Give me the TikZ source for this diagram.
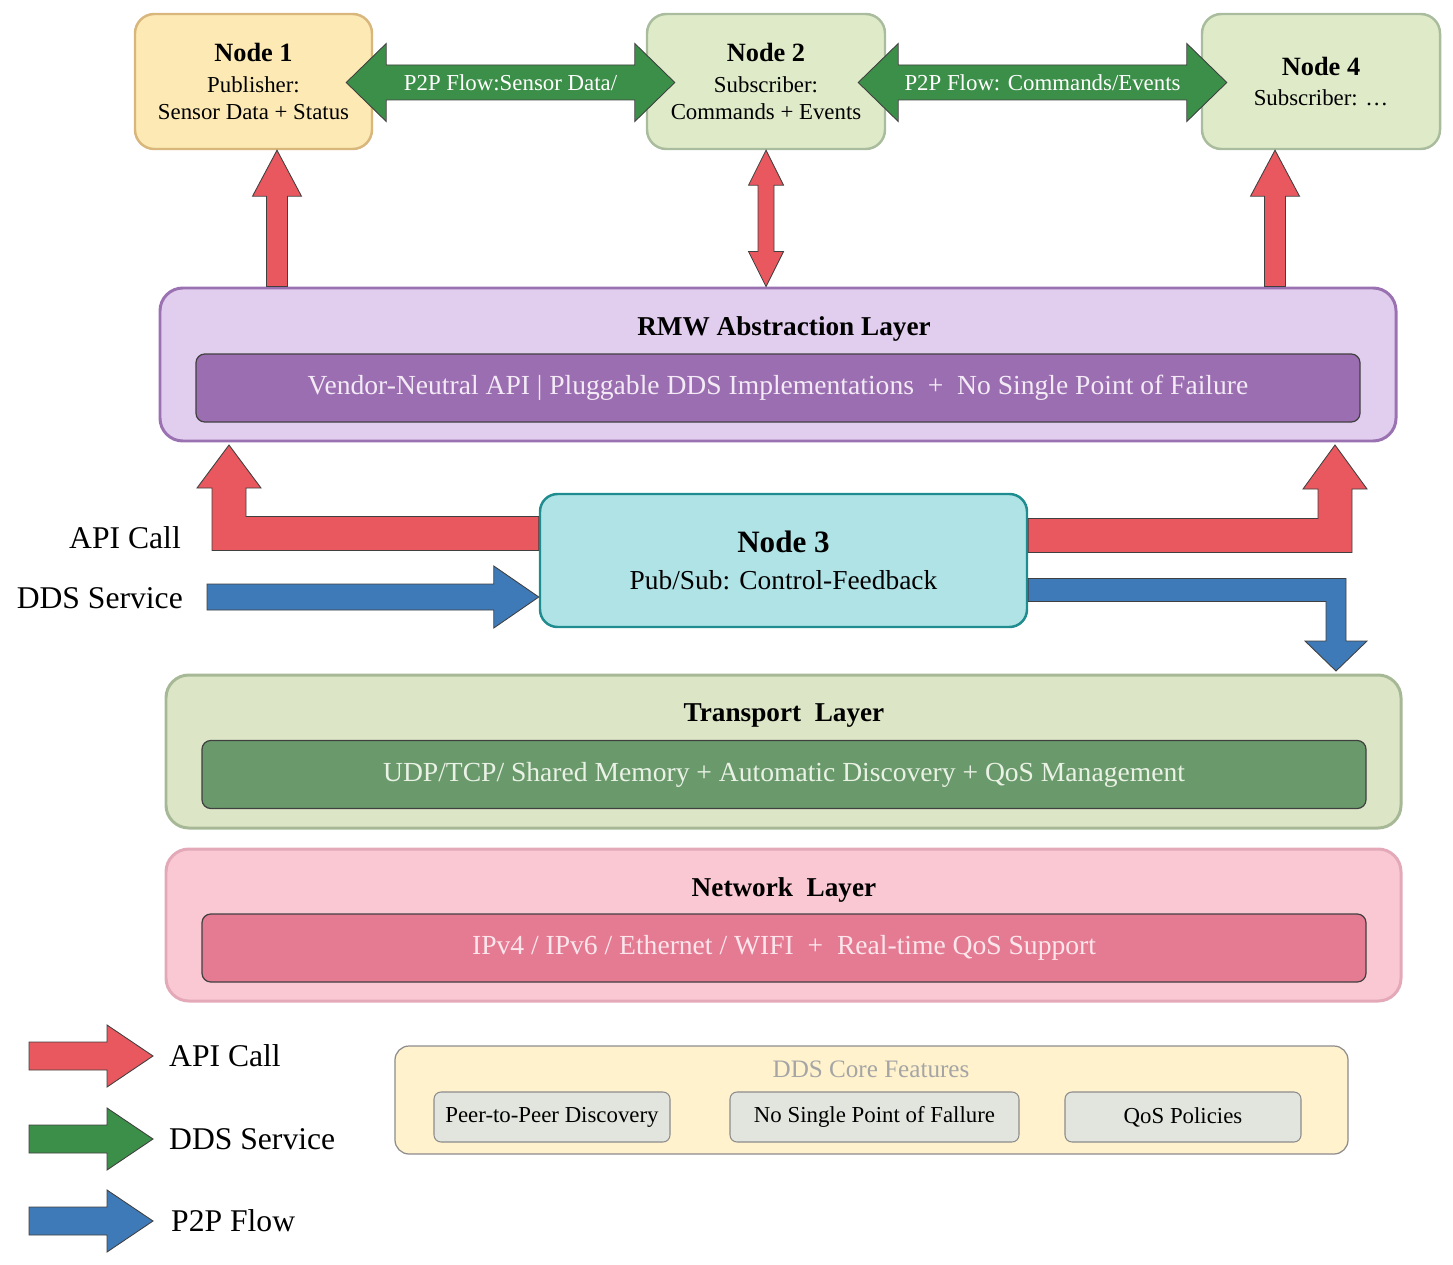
\documentclass[tikz,border=0pt]{standalone}
\usepackage{fontspec}
\setmainfont{Liberation Serif}
\usetikzlibrary{calc,positioning}

\definecolor{apired}{HTML}{E8585E}
\definecolor{ddsgreen}{HTML}{3C8F48}
\definecolor{p2pblue}{HTML}{3F7AB8}
\definecolor{pubfill}{HTML}{FDE9B4}
\definecolor{pubedge}{HTML}{D8B67C}
\definecolor{subfill}{HTML}{DFEAC9}
\definecolor{subedge}{HTML}{A9BC9D}
\definecolor{pubsubfill}{HTML}{B0E3E6}
\definecolor{pubsubedge}{HTML}{1F8C8F}
\definecolor{rmwfill}{HTML}{E1CDEE}
\definecolor{rmwedge}{HTML}{9A72B2}
\definecolor{rmwbar}{HTML}{9A6EB0}
\definecolor{rmwtext}{HTML}{F3EAF6}
\definecolor{trfill}{HTML}{DCE6C6}
\definecolor{tredge}{HTML}{A7B896}
\definecolor{trbar}{HTML}{6A9A6B}
\definecolor{trtext}{HTML}{EAF2E6}
\definecolor{netfill}{HTML}{F9C8D3}
\definecolor{netedge}{HTML}{E3A9B9}
\definecolor{netbar}{HTML}{E57B93}
\definecolor{nettext}{HTML}{FCE6EC}
\definecolor{corefill}{HTML}{FFF2CD}
\definecolor{coretitle}{HTML}{A5A5A5}
\definecolor{featfill}{HTML}{E2E5DE}

\newcommand{\unitpx}{0.02cm}
\newcommand{\nodetitle}{\fontsize{15}{18}\selectfont\bfseries}
\newcommand{\layertitle}{\fontsize{15.5}{18}\selectfont\bfseries}
\newcommand{\sidefont}{\fontsize{18}{21}\selectfont}

% block arrows: base #1, tip #2, shaft half, head half, head length (px), style
\newcommand{\fatv}[6]{%
  \draw[#6] let \p1=(#1), \p2=(#2), \n1={sign(\y2-\y1)} in
    (\x2,\y2) -- ({\x2+#4*\unitpx},{\y2-(\n1)*#5*\unitpx}) -- ({\x2+#3*\unitpx},{\y2-(\n1)*#5*\unitpx})
    -- ({\x2+#3*\unitpx},\y1) -- ({\x2-#3*\unitpx},\y1) -- ({\x2-#3*\unitpx},{\y2-(\n1)*#5*\unitpx})
    -- ({\x2-#4*\unitpx},{\y2-(\n1)*#5*\unitpx}) -- cycle;}
\newcommand{\fatdv}[6]{%
  \draw[#6] let \p1=(#1), \p2=(#2), \n1={sign(\y2-\y1)} in
    (\x2,\y2) -- ({\x2+#4*\unitpx},{\y2-(\n1)*#5*\unitpx}) -- ({\x2+#3*\unitpx},{\y2-(\n1)*#5*\unitpx})
    -- ({\x2+#3*\unitpx},{\y1+(\n1)*#5*\unitpx}) -- ({\x2+#4*\unitpx},{\y1+(\n1)*#5*\unitpx}) -- (\x2,\y1)
    -- ({\x2-#4*\unitpx},{\y1+(\n1)*#5*\unitpx}) -- ({\x2-#3*\unitpx},{\y1+(\n1)*#5*\unitpx})
    -- ({\x2-#3*\unitpx},{\y2-(\n1)*#5*\unitpx}) -- ({\x2-#4*\unitpx},{\y2-(\n1)*#5*\unitpx}) -- cycle;}
\newcommand{\fath}[6]{%
  \draw[#6] let \p1=(#1), \p2=(#2), \n1={sign(\x2-\x1)} in
    (\x2,\y2) -- ({\x2-(\n1)*#5*\unitpx},{\y2+#4*\unitpx}) -- ({\x2-(\n1)*#5*\unitpx},{\y2+#3*\unitpx})
    -- (\x1,{\y2+#3*\unitpx}) -- (\x1,{\y2-#3*\unitpx}) -- ({\x2-(\n1)*#5*\unitpx},{\y2-#3*\unitpx})
    -- ({\x2-(\n1)*#5*\unitpx},{\y2-#4*\unitpx}) -- cycle;}
\newcommand{\fatdh}[6]{%
  \draw[#6] let \p1=(#1), \p2=(#2), \n1={sign(\x2-\x1)} in
    (\x2,\y2) -- ({\x2-(\n1)*#5*\unitpx},{\y2+#4*\unitpx}) -- ({\x2-(\n1)*#5*\unitpx},{\y2+#3*\unitpx})
    -- ({\x1+(\n1)*#5*\unitpx},{\y2+#3*\unitpx}) -- ({\x1+(\n1)*#5*\unitpx},{\y2+#4*\unitpx}) -- (\x1,\y2)
    -- ({\x1+(\n1)*#5*\unitpx},{\y2-#4*\unitpx}) -- ({\x1+(\n1)*#5*\unitpx},{\y2-#3*\unitpx})
    -- ({\x2-(\n1)*#5*\unitpx},{\y2-#3*\unitpx}) -- ({\x2-(\n1)*#5*\unitpx},{\y2-#4*\unitpx}) -- cycle;}

\tikzset{
  peer/.style={draw, rounded corners=11pt, line width=1.4pt, align=center,
    font=\fontsize{13}{15.4}\selectfont},
  layer/.style={draw, rounded corners=13pt, line width=1.7pt,
    minimum width=1235*\unitpx, minimum height=153*\unitpx},
  bar/.style={draw=black!75, rounded corners=5pt, line width=0.7pt,
    minimum width=1164*\unitpx, minimum height=68*\unitpx, font=\fontsize{15.7}{18}\selectfont},
  feat/.style={draw=black!45, fill=featfill, rounded corners=4pt, line width=0.6pt,
    minimum height=50*\unitpx, font=\fontsize{13}{15}\selectfont},
  fat/.style={draw=black!75, line width=0.5pt},
}

\begin{document}
\begin{tikzpicture}[x=0.02cm, y=-0.02cm]
  \useasboundingbox (0,0) rectangle (1453,1264);

  % Peer nodes
  \node[peer, fill=pubfill, draw=pubedge, minimum width=237*\unitpx, minimum height=135*\unitpx]
    (n1) at (253.5,81.5) {{\nodetitle Node 1}\\[2pt]Publisher:\\Sensor Data + Status};
  \node[peer, fill=subfill, draw=subedge, minimum width=238*\unitpx, minimum height=135*\unitpx]
    (n2) at (766,81.5) {{\nodetitle Node 2}\\[2pt]Subscriber:\\Commands + Events};
  \node[peer, fill=subfill, draw=subedge, minimum width=238*\unitpx, minimum height=135*\unitpx]
    (n4) at (1321,81.5) {{\nodetitle Node 4}\\[2pt]Subscriber: \dots};

  % RMW layer
  \node[layer, fill=rmwfill, draw=rmwedge, minimum width=1236*\unitpx] (rmw) at (778,364.5) {};
  \node[font=\layertitle] (rmwt) at (784,329) {RMW Abstraction Layer};
  \node[bar, fill=rmwbar, text=rmwtext] (rmwb) at (778,388)
    {Vendor-Neutral API | Pluggable DDS Implementations \ + \ No Single Point of Failure};

  % Node 3
  \node[draw=pubsubedge, fill=pubsubfill, rounded corners=10pt, line width=1.4pt, align=center,
    minimum width=487*\unitpx, minimum height=133*\unitpx, font=\fontsize{15.6}{20}\selectfont]
    (n3) at (783.5,560.5) {{\fontsize{17.7}{20}\selectfont\bfseries Node 3}\\[1pt]Pub/Sub: Control-Feedback};

  % Transport and network layers
  \node[layer, fill=trfill, draw=tredge] (tr) at (783.5,751.5) {};
  \node[font=\layertitle] (trt) at (784,716) {Transport\ \ Layer};
  \node[bar, fill=trbar, text=trtext] (trb) at (784,774.5)
    {UDP/TCP/ Shared Memory + Automatic Discovery + QoS Management};
  \node[layer, fill=netfill, draw=netedge, minimum height=152*\unitpx] (net) at (783.5,925) {};
  \node[font=\layertitle] (nett) at (784,890) {Network\ \ Layer};
  \node[bar, fill=netbar, text=nettext] (netb) at (784,948)
    {IPv4 / IPv6 / Ethernet / WIFI \ + \ Real-time QoS Support};

  % P2P flows between peers
  \coordinate (g1a) at ($(n1.east)+(-27,1)$);
  \coordinate (g1b) at ($(n2.west)+(29,1)$);
  \coordinate (g2a) at ($(n2.east)+(-28,1)$);
  \coordinate (g2b) at ($(n4.west)+(26,1)$);
  \fatdh{g1a}{g1b}{17.5}{39}{40}{fat, fill=ddsgreen}
  \fatdh{g2a}{g2b}{17.5}{39}{40}{fat, fill=ddsgreen}
  \node[text=white, font=\fontsize{13}{15}\selectfont] (g1l) at ($(g1a)!0.5!(g1b)$) {P2P Flow:Sensor Data/};
  \node[text=white, font=\fontsize{13}{15}\selectfont] (g2l) at ($(g2a)!0.5!(g2b)$) {P2P Flow: Commands/Events};

  % API calls to the peers
  \coordinate (x1) at (277,0);
  \coordinate (x4) at (1275,0);
  \fatv{rmw.north -| x1}{n1.south -| x1}{10.5}{24.5}{46}{fat, fill=apired}
  \fatdv{rmw.north -| n2.south}{n2.south}{8}{17.5}{35}{fat, fill=apired}
  \fatv{rmw.north -| x4}{n4.south -| x4}{10.5}{24.5}{46}{fat, fill=apired}

  % Node 3 flows
  \coordinate (apiL) at (229,445);
  \coordinate (apiR) at (1335,445);
  \coordinate (p2pR) at (1336,671);
  \coordinate (ddsS) at (207,597);
  \draw[fat, fill=apired] let \p1=(n3.west), \p2=(apiL) in
    (\x1,{\y1+44*\unitpx}) -- ({\x2+17*\unitpx},{\y1+44*\unitpx}) -- ({\x2+17*\unitpx},{\y2-43*\unitpx})
    -- ({\x2+32*\unitpx},{\y2-43*\unitpx}) -- (\x2,\y2) -- ({\x2-32*\unitpx},{\y2-43*\unitpx})
    -- ({\x2-17*\unitpx},{\y2-43*\unitpx}) -- ({\x2-17*\unitpx},{\y1+10*\unitpx}) -- (\x1,{\y1+10*\unitpx}) -- cycle;
  \draw[fat, fill=apired] let \p1=(n3.east), \p2=(apiR) in
    (\x1,{\y1+42*\unitpx}) -- ({\x2-17*\unitpx},{\y1+42*\unitpx}) -- ({\x2-17*\unitpx},{\y2-44*\unitpx})
    -- ({\x2-32*\unitpx},{\y2-44*\unitpx}) -- (\x2,\y2) -- ({\x2+32*\unitpx},{\y2-44*\unitpx})
    -- ({\x2+17*\unitpx},{\y2-44*\unitpx}) -- ({\x2+17*\unitpx},{\y1+8*\unitpx}) -- (\x1,{\y1+8*\unitpx}) -- cycle;
  \draw[fat, fill=p2pblue] let \p1=(n3.east), \p2=(p2pR) in
    (\x1,{\y1-18*\unitpx}) -- ({\x2+10*\unitpx},{\y1-18*\unitpx}) -- ({\x2+10*\unitpx},{\y2+30*\unitpx})
    -- ({\x2+31*\unitpx},{\y2+30*\unitpx}) -- (\x2,\y2) -- ({\x2-31*\unitpx},{\y2+30*\unitpx})
    -- ({\x2-10*\unitpx},{\y2+30*\unitpx}) -- ({\x2-10*\unitpx},{\y1-41*\unitpx}) -- (\x1,{\y1-41*\unitpx}) -- cycle;
  \fath{ddsS}{n3.west |- ddsS}{13}{31}{45}{fat, fill=p2pblue}
  \node[anchor=east, font=\sidefont] (lapi) at (187,538) {API Call};
  \node[anchor=east, font=\sidefont] (ldds) at (189,598) {DDS Service};

  % Legend
  \coordinate (k1s) at (29,1056);  \coordinate (k1t) at (153,1056);
  \coordinate (k2s) at (29,1139);  \coordinate (k2t) at (153,1139);
  \coordinate (k3s) at (29,1221);  \coordinate (k3t) at (153,1221);
  \fath{k1s}{k1t}{14}{31}{46}{fat, fill=apired}
  \fath{k2s}{k2t}{14}{31}{46}{fat, fill=ddsgreen}
  \fath{k3s}{k3t}{14}{31}{46}{fat, fill=p2pblue}
  \node[right=0.2cm of k1t, font=\sidefont] (k1) {API Call};
  \node[right=0.2cm of k2t, font=\sidefont] (k2) {DDS Service};
  \node[right=0.24cm of k3t, font=\sidefont] (k3) {P2P Flow};

  % DDS core features
  \node[draw=black!45, fill=corefill, rounded corners=8pt, line width=0.7pt,
    minimum width=953*\unitpx, minimum height=108*\unitpx] (core) at (871.5,1100) {};
  \node[text=coretitle, font=\fontsize{14.3}{17}\selectfont] (coret) at (871,1069) {DDS Core Features};
  \node[feat, minimum width=236*\unitpx] (f1) at (552,1117) {Peer-to-Peer Discovery};
  \node[feat, minimum width=289*\unitpx] (f2) at (874.5,1117) {No Single Point of Fallure};
  \node[feat, minimum width=236*\unitpx] (f3) at (1183,1117) {QoS Policies};
\end{tikzpicture}
\end{document}
